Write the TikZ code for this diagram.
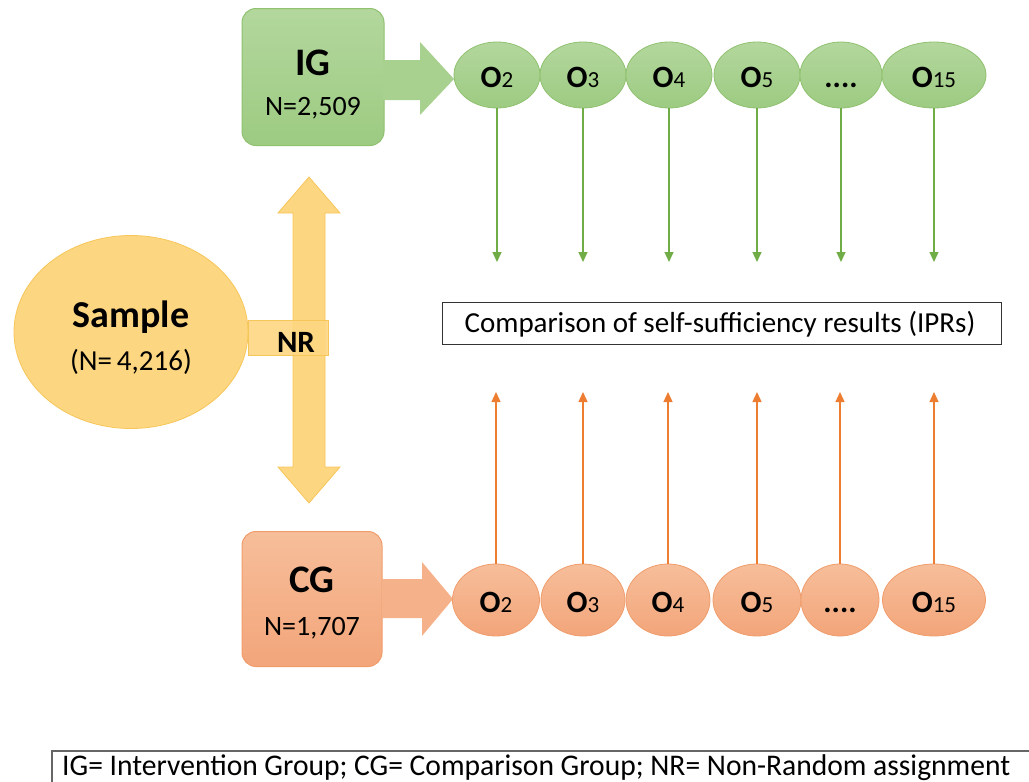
\documentclass[tikz,border=0pt]{standalone}
\usepackage{fontspec}
\setmainfont{Carlito}
\usetikzlibrary{shapes.geometric,arrows.meta}
\newcommand\myfs[1]{\fontsize{#1}{#1}\selectfont}
\definecolor{gtop}{HTML}{B3D79D}
\definecolor{gbot}{HTML}{9DCB82}
\definecolor{gline}{HTML}{8FC16F}
\definecolor{garr}{HTML}{70AD47}
\definecolor{otop}{HTML}{F6BE9A}
\definecolor{obot}{HTML}{F3A57A}
\definecolor{oline}{HTML}{F09D6C}
\definecolor{oarr}{HTML}{ED7D31}
\definecolor{yfill}{HTML}{FDD681}
\definecolor{yline}{HTML}{F7C65A}
\begin{document}
\begin{tikzpicture}[x=1pt,y=-1pt,
  gbox/.style={draw=gline,line width=1pt,top color=gtop,bottom color=gbot,rounded corners=14pt,minimum width=142pt,minimum height=137pt,inner sep=0pt},
  obox/.style={draw=oline,line width=1pt,top color=otop,bottom color=obot,rounded corners=14pt,minimum width=140pt,minimum height=135pt,inner sep=0pt},
  gell/.style={ellipse,draw=gline,line width=0.8pt,top color=gtop,bottom color=gbot,minimum height=66pt,inner sep=0pt},
  oell/.style={ellipse,draw=oline,line width=0.8pt,top color=otop,bottom color=obot,minimum height=72pt,inner sep=0pt},
  olab/.style={anchor=base,inner sep=0pt},
  garrow/.style={draw=garr,line width=1.3pt,-{Triangle[width=9pt,length=10pt]}},
  oarrow/.style={draw=oarr,line width=1.3pt,-{Triangle[width=9pt,length=10pt]}},
  big/.style={font=\myfs{39}\bfseries},
  mid/.style={font=\myfs{28}},
]
\useasboundingbox (0,0) rectangle (1029,782);

% vertical double arrow (NR)
\fill[yfill,draw=yline,line width=0.8pt] (309,177) -- (340,213) -- (325,213) -- (325,467) -- (340,467) -- (309,503) -- (278,467) -- (293,467) -- (293,213) -- (278,213) -- cycle;
% NR bar
\node[draw=yline,line width=0.8pt,fill=yfill,fill opacity=0.9,minimum width=80pt,minimum height=35pt,inner sep=0pt] (nrbar) at (288,338) {};
\node[anchor=base,inner sep=0pt,font=\myfs{31}\bfseries] (nr) at (296,352) {NR};
% sample
\node[ellipse,draw=yline,line width=0.8pt,fill=yfill,minimum width=234pt,minimum height=193pt,inner sep=0pt] (sample) at (131,332) {};
\node[anchor=base,inner sep=0pt,font=\myfs{38}\bfseries] (samplet) at (131,327) {Sample};
\node[anchor=base,inner sep=0pt,font=\myfs{29}] (samplen) at (131,370) {(N=\,4,216)};

% IG
\node[gbox] (ig) at (313,77) {};
\node[anchor=base,inner sep=0pt,big] (igt) at (313,75) {IG};
\node[anchor=base,inner sep=0pt,mid] (ign) at (313,115) {N=2,509};
\fill[gtop!50!gbot] (383,60) -- (420,60) -- (420,42) -- (454,79) -- (420,115) -- (420,100) -- (383,100) -- cycle;

% CG
\node[obox] (cg) at (312,599) {};
\node[anchor=base,inner sep=0pt,big] (cgt) at (312,592) {CG};
\node[anchor=base,inner sep=0pt,mid] (cgn) at (312,635) {N=1,707};
\fill[otop!50!obot] (382,579) -- (422,579) -- (422,562) -- (453,599) -- (422,636) -- (422,618) -- (382,618) -- cycle;

% top ellipses
\foreach \n/\x/\w/\lab in {t2/497/86/{O\myfs{23}\mdseries 2},t3/583/86/{O\myfs{23}\mdseries 3},t4/669/86/{O\myfs{23}\mdseries 4},t5/757/86/{O\myfs{23}\mdseries 5},t6/841/82/{....},t15/934/104/{O\myfs{23}\mdseries 15}}{
  \node[gell,minimum width=\w pt] (\n) at (\x,75) {};
  \node[olab,font=\myfs{31}\bfseries] (\n l) at (\x,87) {\lab};
}
% bottom ellipses
\foreach \n/\x/\w/\lab in {b2/496/87/{O\myfs{23}\mdseries 2},b3/583/84/{O\myfs{23}\mdseries 3},b4/668/84/{O\myfs{23}\mdseries 4},b5/757/88/{O\myfs{23}\mdseries 5},b6/840/78/{....},b15/934/103/{O\myfs{23}\mdseries 15}}{
  \node[oell,minimum width=\w pt] (\n) at (\x,600) {};
  \node[olab,font=\myfs{31}\bfseries] (\n l) at (\x,612) {\lab};
}

% comparison box
\node[draw=black!80,line width=1pt,minimum width=559pt,minimum height=42pt,inner sep=0pt] (cmp) at (721.5,323) {};
\node[anchor=base,inner sep=0pt,font=\myfs{29}] (cmpt) at (720,332) {Comparison of self-sufficiency results (IPRs)};

\coordinate (gend) at (0,262);
\coordinate (oend) at (0,392);
\foreach \n in {t2,t3,t4,t5,t6,t15}{ \draw[garrow] (\n.south) -- (\n.south |- gend); }
\foreach \n in {b2,b3,b4,b5,b6,b15}{ \draw[oarrow] (\n.north) -- (\n.north |- oend); }

% legend
\draw[draw=black!60,line width=1.2pt] (52,800) -- (52,751) -- (1040,751);
\node[anchor=base west,inner sep=0pt,font=\myfs{30}] (legend) at (62,775) {\scalebox{0.985}[1]{IG= Intervention Group; CG= Comparison Group; NR= Non-Random assignment}};
\end{tikzpicture}
\end{document}
